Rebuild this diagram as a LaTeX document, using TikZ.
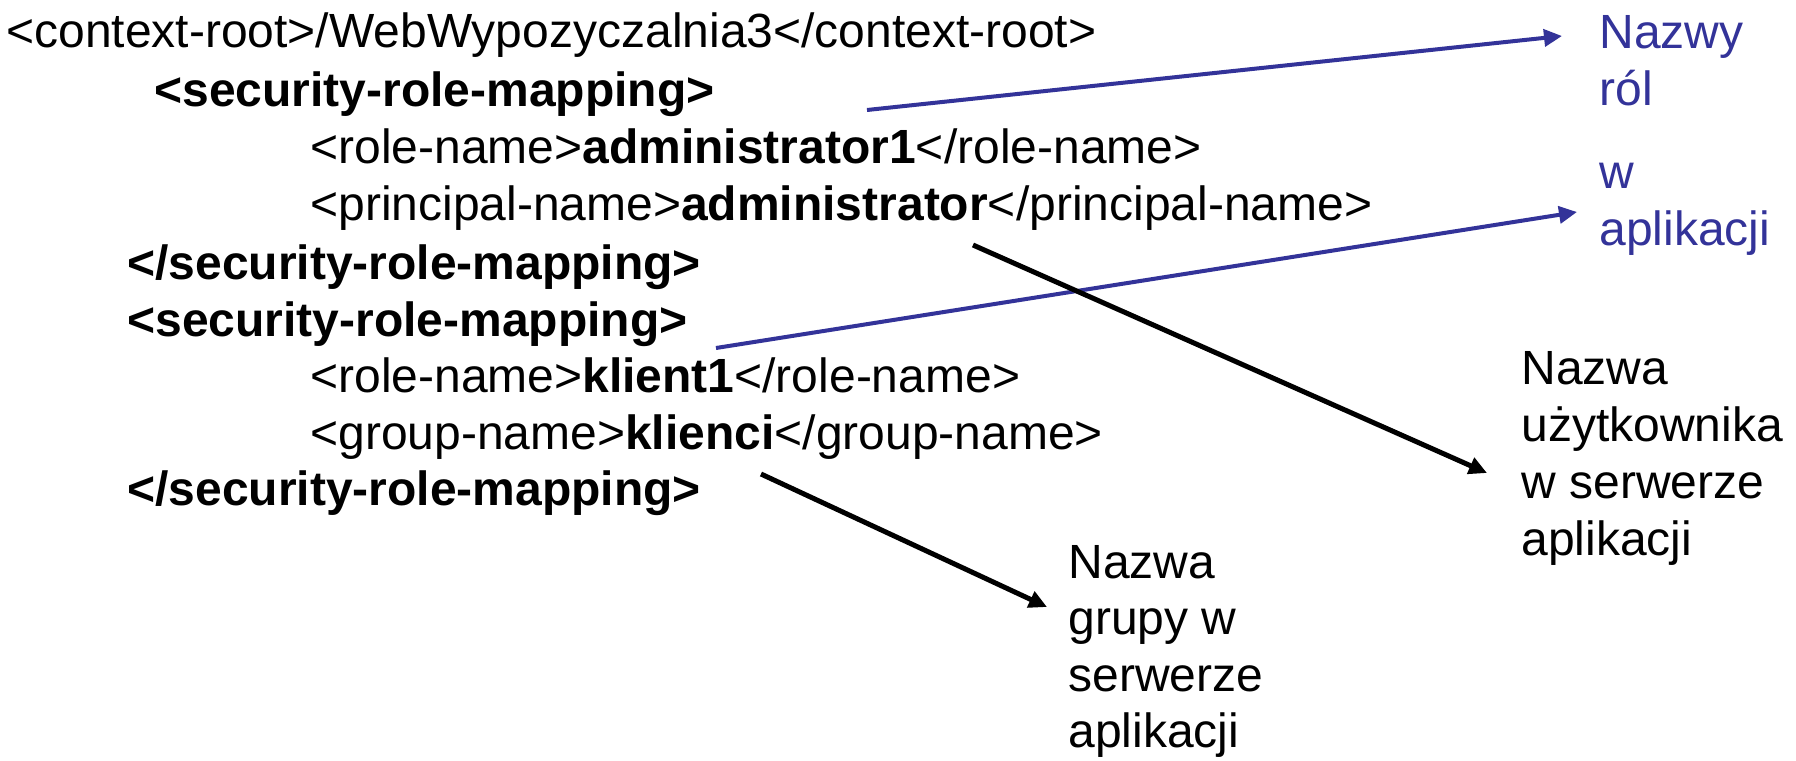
\documentclass[tikz,border=0pt]{standalone}
\usepackage{fontspec}
\setmainfont{Liberation Sans}
\usetikzlibrary{arrows.meta}
\definecolor{pptblue}{RGB}{51,51,153}
\tikzset{
  code/.style={anchor=base west, inner sep=0pt, font=\fontsize{24pt}{28.5pt}\selectfont},
  note/.style={anchor=base west, inner sep=0pt, font=\fontsize{24pt}{28.5pt}\selectfont},
  bluearrow/.style={draw=pptblue, line width=2pt, -{Triangle[length=9pt,width=8.5pt]}},
  blackarrow/.style={draw=black, line width=2.5pt, -{Triangle[length=9pt,width=8.5pt]}}
}
\begin{document}
\begin{tikzpicture}[x=0.5pt,y=-0.5pt]
\useasboundingbox[fill=white] (0,0) rectangle (1796,761);
% code lines
\node[code] (l1) at (6,47) {<context-root>/WebWypozyczalnia3</context-root>};
\node[code] (l2) at (154,106) {\textbf{<security-role-mapping>}};
\node[code] (l3) at (310,163) {<role-name>\textbf{administrator1}</role-name>};
\node[code] (l4) at (310,220) {<principal-name>\textbf{administrator}</principal-name>};
\node[code] (l5) at (127,279) {\textbf{</security-role-mapping>}};
\node[code] (l6) at (127,336) {\textbf{<security-role-mapping>}};
\node[code] (l7) at (310,392) {<role-name>\textbf{klient1}</role-name>};
\node[code] (l8) at (310,449) {<group-name>\textbf{klienci}</group-name>};
\node[code] (l9) at (127,505) {\textbf{</security-role-mapping>}};
% notes
\node[note, text=pptblue] (n1) at (1599,48) {\vtop{\baselineskip=28.5pt\hbox{Nazwy}\hbox{ról}\vskip 13pt\hbox{w}\hbox{aplikacji}}};
\node[note] (n2) at (1521,384) {\vtop{\baselineskip=28.5pt\hbox{Nazwa}\hbox{użytkownika}\hbox{w serwerze}\hbox{aplikacji}}};
\node[note] (n3) at (1068,578) {\vtop{\baselineskip=28.25pt\hbox{Nazwa}\hbox{grupy w}\hbox{serwerze}\hbox{aplikacji}}};
% arrow ends
\coordinate (b1s) at (867,110);
\coordinate (b1e) at (1562,36);
\coordinate (b2s) at (716,348);
\coordinate (b2e) at (1577,212);
\coordinate (k1s) at (973,245);
\coordinate (k1e) at (1487,473);
\coordinate (k2s) at (761,474);
\coordinate (k2e) at (1047,607);
\draw[bluearrow] (b1s) -- (b1e);
\draw[bluearrow] (b2s) -- (b2e);
\draw[blackarrow] (k1s) -- (k1e);
\draw[blackarrow] (k2s) -- (k2e);
\end{tikzpicture}
\end{document}
